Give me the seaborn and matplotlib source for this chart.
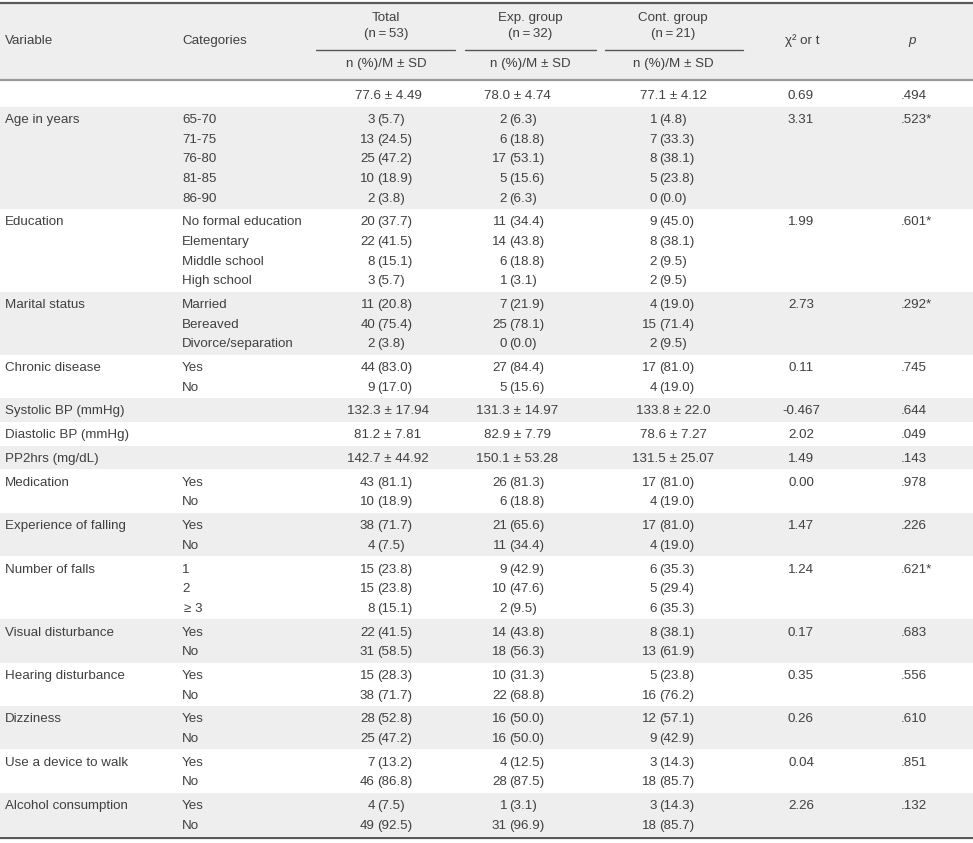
import matplotlib
matplotlib.use("Agg")
import matplotlib.pyplot as plt
import seaborn as sns

# ----------------------------
# Daten (aus der Tabelle abgelesen)
# ----------------------------
variables = [
    "", "Age in years", "Education", "Marital status", "Chronic disease",
    "Systolic BP (mmHg)", "Diastolic BP (mmHg)", "PP2hrs (mg/dL)", "Medication",
    "Experience of falling", "Number of falls", "Visual disturbance",
    "Hearing disturbance", "Dizziness", "Use a device to walk", "Alcohol consumption",
]
categories = [
    [""],
    ["65-70", "71-75", "76-80", "81-85", "86-90"],
    ["No formal education", "Elementary", "Middle school", "High school"],
    ["Married", "Bereaved", "Divorce/separation"],
    ["Yes", "No"],
    [""], [""], [""],
    ["Yes", "No"],
    ["Yes", "No"],
    ["1", "2", "\u2265 3"],
    ["Yes", "No"], ["Yes", "No"], ["Yes", "No"], ["Yes", "No"], ["Yes", "No"],
]
total = [
    ["77.6 \u00b1 4.49"],
    ["3 (5.7)", "13 (24.5)", "25 (47.2)", "10 (18.9)", "2 (3.8)"],
    ["20 (37.7)", "22 (41.5)", "8 (15.1)", "3 (5.7)"],
    ["11 (20.8)", "40 (75.4)", "2 (3.8)"],
    ["44 (83.0)", "9 (17.0)"],
    ["132.3 \u00b1 17.94"], ["81.2 \u00b1 7.81"], ["142.7 \u00b1 44.92"],
    ["43 (81.1)", "10 (18.9)"],
    ["38 (71.7)", "4 (7.5)"],
    ["15 (23.8)", "15 (23.8)", "8 (15.1)"],
    ["22 (41.5)", "31 (58.5)"],
    ["15 (28.3)", "38 (71.7)"],
    ["28 (52.8)", "25 (47.2)"],
    ["7 (13.2)", "46 (86.8)"],
    ["4 (7.5)", "49 (92.5)"],
]
exp_group = [
    ["78.0 \u00b1 4.74"],
    ["2 (6.3)", "6 (18.8)", "17 (53.1)", "5 (15.6)", "2 (6.3)"],
    ["11 (34.4)", "14 (43.8)", "6 (18.8)", "1 (3.1)"],
    ["7 (21.9)", "25 (78.1)", "0 (0.0)"],
    ["27 (84.4)", "5 (15.6)"],
    ["131.3 \u00b1 14.97"], ["82.9 \u00b1 7.79"], ["150.1 \u00b1 53.28"],
    ["26 (81.3)", "6 (18.8)"],
    ["21 (65.6)", "11 (34.4)"],
    ["9 (42.9)", "10 (47.6)", "2 (9.5)"],
    ["14 (43.8)", "18 (56.3)"],
    ["10 (31.3)", "22 (68.8)"],
    ["16 (50.0)", "16 (50.0)"],
    ["4 (12.5)", "28 (87.5)"],
    ["1 (3.1)", "31 (96.9)"],
]
cont_group = [
    ["77.1 \u00b1 4.12"],
    ["1 (4.8)", "7 (33.3)", "8 (38.1)", "5 (23.8)", "0 (0.0)"],
    ["9 (45.0)", "8 (38.1)", "2 (9.5)", "2 (9.5)"],
    ["4 (19.0)", "15 (71.4)", "2 (9.5)"],
    ["17 (81.0)", "4 (19.0)"],
    ["133.8 \u00b1 22.0"], ["78.6 \u00b1 7.27"], ["131.5 \u00b1 25.07"],
    ["17 (81.0)", "4 (19.0)"],
    ["17 (81.0)", "4 (19.0)"],
    ["6 (35.3)", "5 (29.4)", "6 (35.3)"],
    ["8 (38.1)", "13 (61.9)"],
    ["5 (23.8)", "16 (76.2)"],
    ["12 (57.1)", "9 (42.9)"],
    ["3 (14.3)", "18 (85.7)"],
    ["3 (14.3)", "18 (85.7)"],
]
stat = ["0.69", "3.31", "1.99", "2.73", "0.11", "-0.467", "2.02", "1.49",
        "0.00", "1.47", "1.24", "0.17", "0.35", "0.26", "0.04", "2.26"]
p_values = [".494", ".523*", ".601*", ".292*", ".745", ".644", ".049", ".143",
            ".978", ".226", ".621*", ".683", ".556", ".610", ".851", ".132"]

group_headers = ["Total", "Exp. group", "Cont. group"]
group_n = ["(n\u2009=\u200953)", "(n\u2009=\u200932)", "(n\u2009=\u200921)"]

# ----------------------------
# Layout
# ----------------------------
W, H = 973, 843
TXT = "#404040"
GRAY = "#eeeeee"
FS = 9.6

sns.set_theme(style="white")
plt.rcParams["font.family"] = ["Liberation Sans", "DejaVu Sans"]

fig = plt.figure(figsize=(W / 100, H / 100), dpi=100)
ax = fig.add_axes([0, 0, 1, 1])
ax.set_xlim(0, W)
ax.set_ylim(H, 0)
ax.axis("off")

x_var, x_cat = 5, 182
split_x = [375, 507, 657]       # rechte Kante der Anzahl / linke Kante "(..)"
mean_x = [388, 517, 673]        # Mitte M ± SD
head_x = [386, 530, 673]
under = [(316, 455), (465, 596), (605, 743)]
x_stat, x_p = 801, 901

def t(x, y, s, ha="left", **kw):
    ax.text(x, y, s, ha=ha, va="center", fontsize=FS, color=TXT, **kw)

# Kopfzeile
ax.axhspan(3, 80, color=GRAY, lw=0)
ax.axhline(3, color="#5a5a5a", lw=1.6)
ax.axhline(80, color="#9a9a9a", lw=1.6)
t(x_var, 41, "Variable")
t(x_cat, 41, "Categories")
for hx, lab, n, (a, b) in zip(head_x, group_headers, group_n, under):
    t(hx, 18, lab, ha="center")
    t(hx, 34, n, ha="center")
    ax.plot([a, b], [50, 50], color="#555555", lw=1.0)
    t(hx, 64, "n (%)/M \u00b1 SD", ha="center")
t(802, 41, "\u03c7\u00b2 or t", ha="center")
t(912, 41, "p", ha="center", style="italic")

# Datenzeilen
line_h, pad = 19.6, 23.8
y0 = 83.0
for i, var in enumerate(variables):
    n = len(categories[i])
    h = line_h * (n - 1) + pad
    if i % 2 == 1:
        ax.axhspan(y0, y0 + h, color=GRAY, lw=0)
    yc = y0 + pad / 2 + 1.5
    t(x_var, yc, var)
    t(x_stat, yc, stat[i], ha="center")
    t(x_p, yc, p_values[i])
    for j in range(n):
        y = yc + j * line_h
        cat = categories[i][j]
        t(x_cat + (2 if cat.startswith("\u2265") else 0), y, cat)
        for col, sx, mx in zip((total, exp_group, cont_group), split_x, mean_x):
            s = col[i][j]
            if "\u00b1" in s:
                t(mx, y, s, ha="center")
            else:
                cnt, pct = s.split(" ", 1)
                t(sx, y, cnt, ha="right")
                t(sx + 2.6, y, pct)
    y0 += h

ax.axhline(y0 + 1.5, color="#5a5a5a", lw=1.6)

fig.savefig("out.png", dpi=100)
